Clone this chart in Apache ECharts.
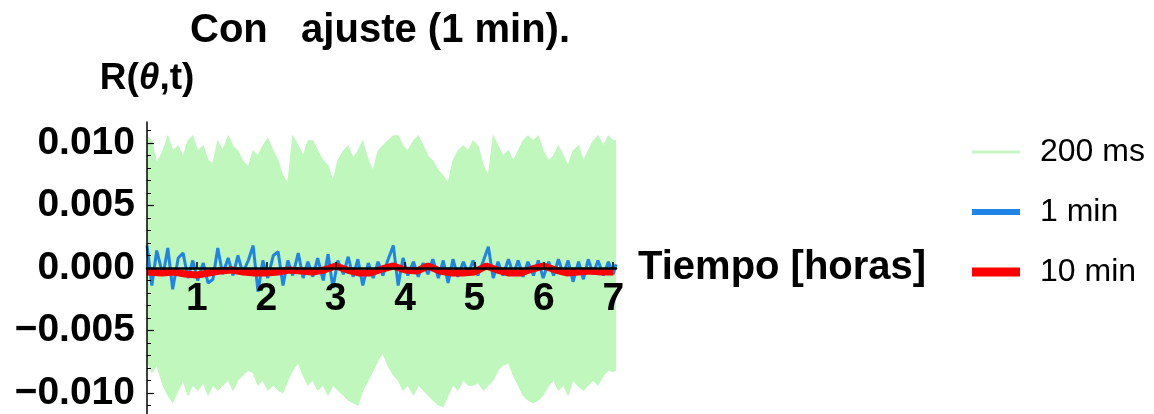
<!DOCTYPE html>
<html><head><meta charset="utf-8">
<script src="https://cdn.jsdelivr.net/npm/echarts@6/dist/echarts.min.js"></script>
<style>html,body{margin:0;padding:0;background:#fff}#c{width:1154px;height:414px}</style>
</head><body><div id="c"></div>
<script>
// time samples (hours) for the 200 ms envelope and the 1 min series
const hours = [
0.28,0.35,0.42,0.51,0.58,0.65,0.73,0.80,0.87,0.94,
1.01,1.09,1.16,1.23,1.30,1.37,1.45,1.52,1.59,1.66,
1.74,1.81,1.88,1.95,2.02,2.10,2.17,2.24,2.31,2.38,
2.46,2.53,2.60,2.67,2.74,2.82,2.89,2.96,3.03,3.11,
3.18,3.25,3.32,3.39,3.47,3.54,3.61,3.68,3.75,3.83,
3.90,3.97,4.04,4.12,4.19,4.26,4.33,4.40,4.48,4.55,
4.62,4.69,4.76,4.84,4.91,4.98,5.05,5.13,5.20,5.27,
5.34,5.41,5.49,5.56,5.63,5.70,5.77,5.85,5.92,5.99,
6.07,6.14,6.21,6.28,6.35,6.42,6.50,6.57,6.64,6.71,
6.78,6.86,6.93,7.00,7.04];
// 200 ms: upper and lower envelope of the dense signal
const upper200ms = [
0.0106,0.0102,0.0084,0.0094,0.0106,0.0094,0.0098,0.0089,0.0102,0.0106,
0.0094,0.0098,0.0086,0.0084,0.0102,0.0094,0.0106,0.0098,0.0094,0.0086,
0.0081,0.0094,0.0090,0.0098,0.0104,0.0094,0.0086,0.0074,0.0068,0.0106,
0.0098,0.0090,0.0102,0.0102,0.0094,0.0086,0.0082,0.0070,0.0086,0.0094,
0.0098,0.0088,0.0094,0.0102,0.0086,0.0078,0.0094,0.0098,0.0102,0.0106,
0.0106,0.0098,0.0094,0.0102,0.0106,0.0098,0.0090,0.0086,0.0078,0.0074,
0.0068,0.0086,0.0094,0.0098,0.0094,0.0102,0.0098,0.0082,0.0074,0.0106,
0.0098,0.0090,0.0094,0.0086,0.0094,0.0102,0.0106,0.0102,0.0106,0.0094,
0.0086,0.0090,0.0098,0.0090,0.0082,0.0094,0.0098,0.0086,0.0094,0.0102,
0.0106,0.0098,0.0106,0.0102,0.0102];
const lower200ms = [
-0.0074,-0.0084,-0.0078,-0.0094,-0.0102,-0.0108,-0.0098,-0.0090,-0.0102,-0.0094,
-0.0098,-0.0092,-0.0102,-0.0094,-0.0098,-0.0094,-0.0090,-0.0098,-0.0090,-0.0086,
-0.0082,-0.0084,-0.0094,-0.0090,-0.0098,-0.0094,-0.0098,-0.0100,-0.0090,-0.0082,
-0.0076,-0.0086,-0.0094,-0.0090,-0.0098,-0.0094,-0.0102,-0.0094,-0.0098,-0.0102,
-0.0106,-0.0108,-0.0110,-0.0098,-0.0090,-0.0082,-0.0074,-0.0068,-0.0078,-0.0086,
-0.0090,-0.0098,-0.0094,-0.0102,-0.0094,-0.0098,-0.0102,-0.0106,-0.0110,-0.0111,
-0.0102,-0.0094,-0.0098,-0.0090,-0.0094,-0.0094,-0.0092,-0.0098,-0.0094,-0.0090,
-0.0082,-0.0078,-0.0076,-0.0086,-0.0094,-0.0102,-0.0106,-0.0108,-0.0106,-0.0102,
-0.0094,-0.0090,-0.0098,-0.0094,-0.0102,-0.0090,-0.0095,-0.0098,-0.0094,-0.0090,
-0.0094,-0.0086,-0.0082,-0.0083,-0.0082];
// 1 min series
const min1 = [
0.0018,-0.0014,0.0014,-0.0006,0.0016,-0.0017,0.0008,0.0012,-0.0008,0.0006,
-0.0010,0.0004,-0.0012,-0.0009,0.0016,-0.0005,0.0008,-0.0006,0.0010,-0.0004,
0.0006,0.0018,-0.0019,0.0006,-0.0008,0.0010,0.0013,-0.0014,0.0006,-0.0006,
0.0012,-0.0008,0.0005,-0.0007,0.0008,-0.0010,0.0011,-0.0016,0.0006,-0.0005,
0.0009,-0.0007,0.0007,-0.0014,0.0004,-0.0008,0.0005,-0.0006,0.0006,0.0018,
-0.0014,0.0008,-0.0006,0.0005,-0.0007,0.0004,-0.0005,0.0007,-0.0008,0.0006,
-0.0012,0.0007,-0.0007,0.0005,-0.0005,0.0006,-0.0006,0.0006,0.0017,-0.0008,
0.0005,-0.0006,0.0007,-0.0005,0.0006,-0.0007,0.0005,-0.0006,0.0006,-0.0008,
0.0005,-0.0006,0.0007,-0.0005,0.0006,-0.0011,0.0005,-0.0009,0.0007,-0.0005,
0.0006,-0.0006,0.0005,-0.0005,0.0003];
// 10 min series
const hours10 = [0.28,0.50,0.67,0.83,1.00,1.17,1.33,1.50,1.67,1.83,2.00,2.17,2.33,2.50,2.67,2.83,3.00,3.17,3.33,3.50,3.67,3.83,4.00,4.17,4.33,4.50,4.67,4.83,5.00,5.17,5.33,5.50,5.67,5.83,6.00,6.17,6.33,6.50,6.67,6.83,7.00];
const min10 = [-0.00032,-0.00040,-0.00032,-0.00048,-0.00056,-0.00040,-0.00024,-0.00016,-0.00032,-0.00040,-0.00040,-0.00032,-0.00016,-0.00024,-0.00032,-0.00016,0.00016,-0.00016,-0.00040,-0.00040,-0.00008,0.00016,-0.00016,-0.00024,0.00016,-0.00024,-0.00040,-0.00040,-0.00032,0.00016,-0.00016,-0.00040,-0.00040,-0.00008,0.00016,-0.00016,-0.00040,-0.00032,-0.00024,-0.00032,-0.00032];
// ticks
const xTicks = [1,2,3,4,5,6,7];
const yTicks = [-0.01,-0.005,0,0.005,0.01];
const yMinorTicks = [-0.011,-0.010,-0.009,-0.008,-0.007,-0.006,-0.005,-0.004,-0.003,-0.002,-0.001,0,0.001,0.002,0.003,0.004,0.005,0.006,0.007,0.008,0.009,0.010,0.011];
const seriesNames = ['200 ms','1 min','10 min'];

const FONT = '"Liberation Sans", Arial, Helvetica, sans-serif';
const GREEN = '#bff7bd', GREEN_LEG = '#c8f5c8', BLUE = '#1f84e6', RED = '#ff0000';
const pair = (xs, ys) => xs.map((x, i) => [x, ys[i]]);
const YMIN = -0.0117, YMAX = 0.0117;
const CHART_H = 414, GRID_TOP = 122, GRID_BOTTOM = 0;
// move the x axis from the grid's bottom edge up to y = 0 (the grid is symmetric about 0)
const X_AXIS_OFFSET = -(CHART_H - GRID_TOP - GRID_BOTTOM) / 2;

const chart = echarts.init(document.getElementById('c'), null, {renderer: 'canvas'});
chart.setOption({
  animation: false,
  backgroundColor: '#fff',
  textStyle: {fontFamily: FONT},
  title: {
    text: 'Con   ajuste (1 min).', left: 190, top: 11, padding: 0,
    textStyle: {fontSize: 40, fontWeight: 'bold', color: '#000', fontFamily: FONT}
  },
  legend: {
    orient: 'vertical', left: 972, top: 136, padding: 0,
    itemWidth: 48, itemHeight: 10, itemGap: 28, symbolKeepAspect: true,
    data: [
      {name: seriesNames[0], icon: 'path://M0,0H48V3H0Z', itemStyle: {color: GREEN_LEG}},
      {name: seriesNames[1], icon: 'path://M0,0H48V6H0Z', itemStyle: {color: BLUE}},
      {name: seriesNames[2], icon: 'path://M0,0H48V9H0Z', itemStyle: {color: RED}}
    ],
    textStyle: {fontSize: 32, color: '#000', fontFamily: FONT, lineHeight: 32, padding: [0, 0, 0, 15]}
  },
  grid: {left: 147, right: 538, top: GRID_TOP, bottom: GRID_BOTTOM, containLabel: false, outerBoundsMode: 'none'},
  xAxis: {
    type: 'value', min: 0.28, max: 7.04, z: 10, zlevel: 1, position: 'bottom', offset: X_AXIS_OFFSET,
    axisLine: {onZero: false, lineStyle: {color: '#000', width: 2.5}},
    axisTick: {inside: true, length: 6, customValues: xTicks, lineStyle: {color: '#000', width: 1.5}},
    axisLabel: {customValues: xTicks, margin: 12, fontSize: 39, fontWeight: 'bold', color: '#000', fontFamily: FONT},
    splitLine: {show: false},
    name: 'Tiempo [horas]', nameLocation: 'end', nameGap: 22,
    nameTextStyle: {fontSize: 40, fontWeight: 'bold', color: '#000', fontFamily: FONT, padding: [0, 0, 14, 0]}
  },
  yAxis: [{
    type: 'value', min: YMIN, max: YMAX, z: 10, zlevel: 1,
    axisLine: {show: true, onZero: false, lineStyle: {color: '#000', width: 1.5}},
    axisTick: {inside: true, length: 7, customValues: yTicks, lineStyle: {color: '#000', width: 1.2}},
    axisLabel: {
      customValues: yTicks, margin: 12, fontSize: 39, fontWeight: 'bold', color: '#000', fontFamily: FONT,
      formatter: v => (v < 0 ? '\u2212' : '') + Math.abs(v).toFixed(3)
    },
    splitLine: {show: false},
    name: '{a|R(}{b|\u03b8}{a|,t)}', nameLocation: 'end', nameGap: 25,
    nameTextStyle: {
      fontSize: 37, fontWeight: 'bold', color: '#000', fontFamily: FONT,
      rich: {
        a: {fontSize: 37, fontWeight: 'bold', color: '#000', fontFamily: FONT},
        b: {fontSize: 37, fontWeight: 'bold', fontStyle: 'italic', color: '#000', fontFamily: FONT}
      }
    }
  }, {
    type: 'value', min: YMIN, max: YMAX, z: 10, zlevel: 1, position: 'left',
    axisLine: {show: false, onZero: false},
    axisTick: {inside: true, length: 4, customValues: yMinorTicks, lineStyle: {color: '#000', width: 1}},
    axisLabel: {show: false},
    splitLine: {show: false}
  }],
  series: [
    {name: seriesNames[0], type: 'line', data: pair(hours, upper200ms), symbol: 'none', z: 1,
     itemStyle: {color: GREEN}, lineStyle: {color: GREEN, width: 1}, areaStyle: {color: GREEN, opacity: 1}},
    {name: seriesNames[0], type: 'line', data: pair(hours, lower200ms), symbol: 'none', z: 1,
     itemStyle: {color: GREEN}, lineStyle: {color: GREEN, width: 1}, areaStyle: {color: GREEN, opacity: 1}},
    {name: seriesNames[1], type: 'line', data: pair(hours, min1), symbol: 'none', z: 3,
     itemStyle: {color: BLUE}, lineStyle: {color: BLUE, width: 3}},
    {name: seriesNames[2], type: 'line', data: pair(hours10, min10), symbol: 'none', z: 4,
     itemStyle: {color: RED}, lineStyle: {color: RED, width: 7}}
  ]
});
</script></body></html>
